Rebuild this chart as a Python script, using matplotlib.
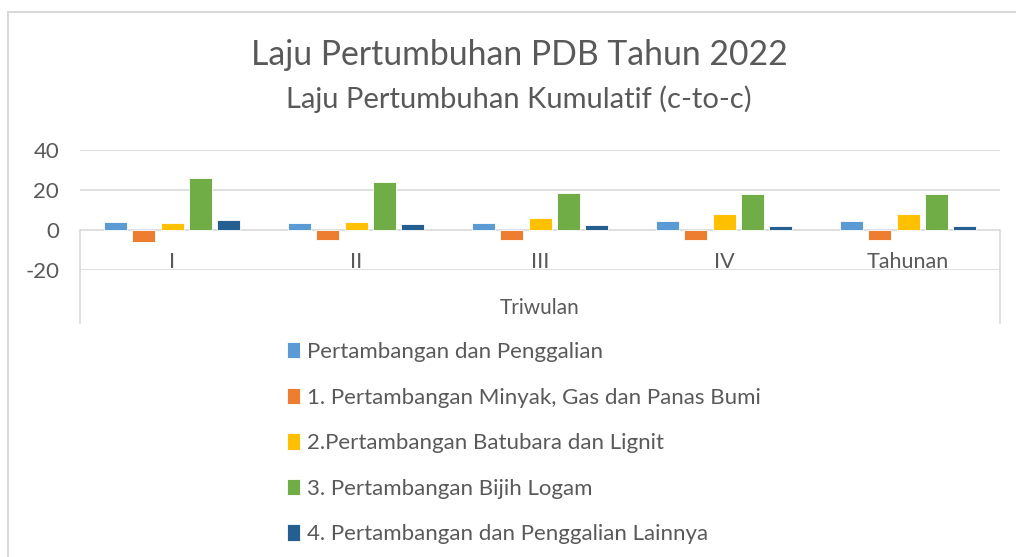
import matplotlib
matplotlib.use("Agg")
import matplotlib.pyplot as plt
import numpy as np
from matplotlib.patches import Rectangle

plt.rcParams['font.family'] = ['Lato', 'DejaVu Sans']
plt.rcParams['axes.unicode_minus'] = False

# --- data ---
categories = ["I", "II", "III", "IV", "Tahunan"]
series_names = [
    "Pertambangan dan Penggalian",
    "1. Pertambangan Minyak, Gas dan Panas Bumi",
    "2.Pertambangan Batubara dan Lignit",
    "3. Pertambangan Bijih Logam",
    "4. Pertambangan dan Penggalian Lainnya",
]
total = [3.8, 3.7, 3.7, 4.4, 4.4]
migas = [-6.2, -5.2, -5.2, -4.9, -4.9]
batubara = [3.7, 4.1, 5.9, 8.2, 8.2]
bijih = [25.8, 23.9, 18.6, 17.9, 17.9]
lainnya = [4.8, 2.8, 2.3, 2.1, 2.1]
series_values = [total, migas, batubara, bijih, lainnya]
colors = ["#5B9BD5", "#ED7D31", "#FFC000", "#70AD47", "#255E91"]

text_color = "#595959"
grid_color = "#D9D9D9"

fig = plt.figure(figsize=(10.16, 5.57), dpi=100)

# outer chart border
fig.patches.append(Rectangle((8 / 1016, -0.1), 1.2, 1 - 12 / 557 + 0.1,
                             transform=fig.transFigure, fill=False,
                             edgecolor=grid_color, linewidth=1.5))

ax = fig.add_axes([80 / 1016, 1 - 270 / 557, 920 / 1016, 120 / 557])

x = np.arange(len(categories))
step = 0.1535
width = 0.125
handles = []
for i, (vals, c) in enumerate(zip(series_values, colors)):
    h = ax.bar(x + (i - 2) * step, vals, width, color=c, edgecolor="white",
               linewidth=0.6, zorder=3)
    handles.append(h)

ax.set_xlim(-0.5, len(categories) - 0.5)
ax.set_ylim(-20, 40)
ax.set_yticks([-20, 0, 20, 40])
ax.yaxis.grid(True, color=grid_color, linewidth=1.2, zorder=0)
ax.set_xticks([])
for s in ax.spines.values():
    s.set_visible(False)
ax.tick_params(axis="y", length=0, pad=15, labelsize=16, labelcolor=text_color)

# category labels and frame of the category axis
for xi, lab in zip(x, categories):
    ax.text(xi, -16, lab, ha="center", va="center", fontsize=15.5, color=text_color)
for xv in (-0.5, len(categories) - 0.5):
    ax.axvline(xv, ymin=-0.44, ymax=1 / 3, color=grid_color, linewidth=1.2,
               clip_on=False)

fig.text(540 / 1016, 1 - 308 / 557, "Triwulan", ha="center", va="center",
         fontsize=15, color=text_color)

fig.text(519 / 1016, 1 - 55 / 557, "Laju Pertumbuhan PDB Tahun 2022",
         ha="center", va="center", fontsize=24.3, color=text_color)
fig.text(519 / 1016, 1 - 99 / 557, "Laju Pertumbuhan Kumulatif (c-to-c)",
         ha="center", va="center", fontsize=21, color=text_color)

leg = fig.legend(handles, series_names, loc="upper left",
                 bbox_to_anchor=(287 / 1016, 1 - 342 / 557), frameon=False,
                 fontsize=16, labelcolor=text_color, handlelength=0.6,
                 handleheight=0.75, handletextpad=0.3, labelspacing=1.15,
                 borderpad=0, borderaxespad=0)

fig.savefig("out.png", dpi=100)
